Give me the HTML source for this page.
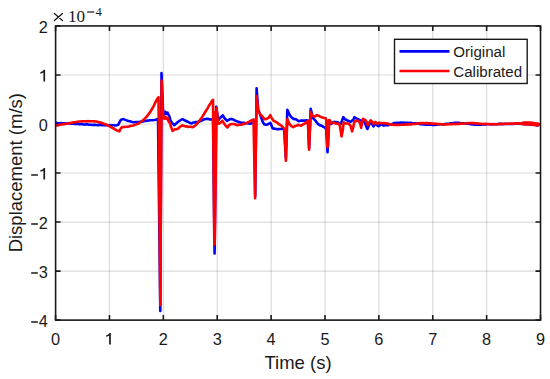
<!DOCTYPE html>
<html><head><meta charset="utf-8"><style>
html,body{margin:0;padding:0;background:#fff;}
body{width:550px;height:379px;overflow:hidden;}
svg{display:block;}
text{font-family:"Liberation Sans",sans-serif;fill:#1a1a1a;}
</style></head><body>
<svg width="550" height="379" viewBox="0 0 550 379">
<rect width="550" height="379" fill="#fff"/>
<g stroke="#262626" stroke-opacity="0.17" stroke-width="1.15" fill="none"><line x1="109.48" y1="25.94" x2="109.48" y2="320.12"/><line x1="163.36" y1="25.94" x2="163.36" y2="320.12"/><line x1="217.24" y1="25.94" x2="217.24" y2="320.12"/><line x1="271.12" y1="25.94" x2="271.12" y2="320.12"/><line x1="325.00" y1="25.94" x2="325.00" y2="320.12"/><line x1="378.88" y1="25.94" x2="378.88" y2="320.12"/><line x1="432.76" y1="25.94" x2="432.76" y2="320.12"/><line x1="486.64" y1="25.94" x2="486.64" y2="320.12"/><line x1="55.60" y1="271.09" x2="540.52" y2="271.09"/><line x1="55.60" y1="222.06" x2="540.52" y2="222.06"/><line x1="55.60" y1="173.03" x2="540.52" y2="173.03"/><line x1="55.60" y1="124.00" x2="540.52" y2="124.00"/><line x1="55.60" y1="74.97" x2="540.52" y2="74.97"/></g>
<path d="M55.60 320.12V315.12M55.60 25.94V30.94M109.48 320.12V315.12M109.48 25.94V30.94M163.36 320.12V315.12M163.36 25.94V30.94M217.24 320.12V315.12M217.24 25.94V30.94M271.12 320.12V315.12M271.12 25.94V30.94M325.00 320.12V315.12M325.00 25.94V30.94M378.88 320.12V315.12M378.88 25.94V30.94M432.76 320.12V315.12M432.76 25.94V30.94M486.64 320.12V315.12M486.64 25.94V30.94M540.52 320.12V315.12M540.52 25.94V30.94M55.60 320.12H60.60M540.52 320.12H535.52M55.60 271.09H60.60M540.52 271.09H535.52M55.60 222.06H60.60M540.52 222.06H535.52M55.60 173.03H60.60M540.52 173.03H535.52M55.60 124.00H60.60M540.52 124.00H535.52M55.60 74.97H60.60M540.52 74.97H535.52M55.60 25.94H60.60M540.52 25.94H535.52" stroke="#1a1a1a" stroke-width="1.6" fill="none"/>
<clipPath id="ax"><rect x="55.60" y="25.94" width="484.92" height="294.18"/></clipPath>
<g fill="none" stroke-linejoin="round" stroke-linecap="round" stroke-width="2.6" clip-path="url(#ax)">
<polyline stroke="#0000ff" points="55.6,123.0 56.9,122.9 58.3,123.3 59.6,123.3 61.0,123.1 62.3,123.3 63.7,123.3 65.0,123.4 66.4,123.6 67.7,123.5 69.1,123.4 70.5,123.4 72.0,123.8 73.4,123.7 74.8,123.9 76.2,123.7 77.7,123.9 79.1,124.1 80.5,124.1 82.0,124.1 83.5,124.5 85.0,124.6 86.4,124.3 87.9,124.4 89.4,124.7 90.9,124.8 92.3,125.0 93.8,124.9 95.2,124.9 96.6,125.0 98.1,125.1 99.5,124.9 101.0,125.0 102.4,125.2 103.9,125.2 105.3,125.1 106.8,125.2 108.2,125.3 109.5,125.2 110.9,125.4 112.2,125.3 113.6,125.3 114.9,125.5 116.6,125.3 118.3,124.8 119.6,122.0 121.0,119.7 123.6,119.1 125.3,119.9 127.1,120.6 128.5,121.0 129.9,121.2 131.4,121.8 132.8,122.1 134.2,122.3 135.7,122.0 137.2,122.0 138.7,122.0 140.2,121.8 141.6,121.6 143.0,121.5 144.5,121.0 145.9,121.0 147.3,120.6 148.7,120.5 150.1,120.2 151.4,120.2 152.8,120.2 154.2,120.0 155.6,119.7 158.0,119.1 160.3,311.0 161.5,73.0 163.1,111.2 164.2,114.3 165.3,111.8 166.4,114.0 167.5,112.6 168.6,114.8 169.5,116.5 170.5,120.5 172.0,123.0 174.3,125.2 176.0,123.6 178.2,121.8 180.0,120.5 182.5,119.0 184.0,120.0 186.1,121.0 187.6,121.7 189.0,122.4 190.3,123.0 191.7,123.4 193.1,122.5 194.5,122.5 195.8,122.0 197.2,122.0 199.0,121.6 200.8,121.0 202.7,119.9 204.5,119.3 206.3,118.9 208.2,118.9 210.0,119.4 211.5,119.5 213.0,119.5 214.6,253.4 216.2,106.7 218.3,120.0 220.4,117.7 222.7,115.3 224.7,118.5 227.1,120.8 229.5,119.3 231.4,118.9 233.4,119.6 235.8,120.8 237.4,121.6 239.0,122.0 240.6,122.6 242.1,122.8 243.7,122.8 245.3,123.1 246.9,123.2 248.5,123.4 250.8,123.6 252.8,122.8 254.5,121.5 255.2,196.0 256.6,88.2 258.2,109.8 259.6,112.9 261.2,117.7 262.8,122.0 264.3,124.4 266.7,124.8 268.3,124.0 270.3,122.8 271.9,126.4 272.6,128.4 274.0,128.6 275.4,128.8 277.0,129.2 278.6,129.1 280.2,129.0 281.8,128.8 284.1,129.1 285.9,158.0 287.3,109.8 289.9,115.2 291.7,117.5 293.5,118.9 294.9,119.1 296.3,119.4 298.6,121.2 301.2,120.6 302.8,120.6 304.3,120.6 306.7,120.3 308.0,120.5 309.1,148.0 310.7,108.9 313.0,118.2 315.4,120.6 317.8,123.8 320.2,125.4 321.8,125.7 323.4,126.9 325.5,127.8 326.3,130.0 327.5,152.3 329.0,120.5 331.2,124.0 332.8,122.5 334.3,121.9 335.9,122.2 337.5,122.1 339.1,123.5 340.7,124.0 342.0,120.6 343.3,117.1 344.9,119.3 346.5,120.0 348.1,120.8 350.7,121.9 352.0,120.6 353.3,119.8 354.4,117.2 356.0,118.3 357.4,118.9 358.7,119.5 360.1,120.4 361.5,120.5 363.1,121.6 364.7,122.3 366.0,125.7 367.4,129.0 369.5,124.0 371.5,122.5 373.4,126.5 375.5,123.5 377.0,125.2 378.5,126.2 381.0,124.5 382.4,124.8 383.7,125.6 385.2,125.3 386.8,125.0 388.5,125.1 390.3,124.5 392.0,124.2 394.0,123.1 395.3,123.0 396.6,122.9 397.9,122.9 399.3,123.0 400.6,122.5 401.9,122.8 403.2,122.6 404.7,122.8 406.1,122.9 407.6,122.9 409.0,123.0 410.5,122.9 412.1,123.1 413.6,123.2 415.2,123.3 416.8,123.5 418.4,123.6 420.0,124.1 421.6,124.3 423.2,124.5 424.5,124.4 425.8,124.6 427.1,124.7 428.4,124.7 429.8,124.7 431.1,124.8 432.4,124.9 433.7,125.0 435.0,125.0 436.4,124.8 437.9,124.5 439.3,124.5 440.7,124.3 442.1,124.3 443.6,124.3 445.0,124.0 446.4,123.9 447.9,123.8 449.3,123.6 450.7,123.2 452.1,123.3 453.6,123.0 455.0,122.8 456.4,122.7 457.9,122.8 459.3,122.9 460.7,123.3 462.1,123.2 463.6,123.2 465.0,123.5 466.4,123.7 467.9,123.8 469.3,123.9 470.7,124.1 472.1,124.4 473.6,124.5 475.0,124.8 476.4,124.7 477.7,124.8 479.1,124.6 480.5,124.5 481.8,124.6 483.2,124.3 484.5,124.4 485.9,124.4 487.3,124.3 488.6,124.2 490.0,124.3 491.4,124.4 492.7,124.2 494.1,124.1 495.4,124.2 496.8,124.3 498.1,123.9 499.4,123.9 500.8,123.9 502.1,124.1 503.5,124.0 504.9,123.8 506.3,124.0 507.7,124.0 509.1,123.9 510.5,123.7 512.0,124.0 513.4,123.9 514.8,123.7 516.2,123.6 517.6,123.7 519.0,123.6 520.4,123.7 521.8,123.9 523.2,123.9 524.6,124.1 526.0,124.0 527.4,124.3 528.8,124.3 530.3,124.7 531.7,124.8 533.2,124.6 534.6,124.8 536.5,125.1 538.4,125.2"/>
<polyline stroke="#ff0000" points="55.6,125.4 57.2,125.4 58.8,125.1 60.4,124.5 62.0,124.5 63.4,124.1 64.8,124.1 66.3,123.8 67.7,123.5 69.3,123.2 70.9,122.8 72.5,122.6 74.1,122.2 75.7,122.1 77.3,121.9 78.9,121.5 80.5,121.5 82.0,121.4 83.5,121.3 85.0,121.3 86.5,121.4 88.0,121.1 89.3,121.3 90.7,121.2 92.0,121.3 93.4,121.2 94.7,121.4 96.1,121.5 97.4,121.8 98.8,122.2 100.1,122.4 101.5,122.8 102.8,123.3 104.2,124.0 105.5,124.3 106.8,124.8 108.4,125.7 110.0,126.5 111.6,127.5 113.2,128.2 114.7,129.2 116.3,130.2 117.8,130.6 119.3,131.3 121.0,128.2 122.3,127.1 124.1,127.0 125.9,126.8 127.4,126.7 128.9,126.4 130.4,125.9 131.9,125.8 133.4,125.5 134.9,124.9 136.3,124.4 137.8,123.8 139.2,123.1 140.5,122.0 142.1,121.0 143.7,119.7 146.0,117.3 148.5,114.3 150.3,111.9 152.0,109.0 153.8,105.8 155.6,101.9 157.0,99.2 158.5,97.2 160.3,305.0 161.6,80.6 163.1,116.3 164.2,118.8 165.3,116.6 166.4,119.0 167.5,117.8 168.6,121.5 170.3,123.6 170.8,126.4 172.5,130.8 174.9,129.3 176.8,129.1 178.2,128.5 179.5,127.3 180.9,126.2 182.3,125.4 184.2,125.9 185.6,126.5 186.9,126.3 188.3,127.0 189.7,126.8 191.1,126.7 192.5,127.3 193.9,126.6 195.3,125.4 196.7,124.2 198.0,122.6 199.4,120.7 200.8,118.9 202.2,116.9 203.6,114.8 204.9,112.5 206.3,110.2 207.7,108.2 209.1,105.5 210.6,103.2 212.0,100.9 213.0,99.8 214.3,244.6 215.2,112.0 214.7,244.0 216.6,108.0 217.9,123.7 220.0,123.2 222.3,120.8 224.7,124.4 226.1,126.2 227.5,127.4 229.5,124.8 231.8,124.0 234.2,124.0 236.6,125.2 238.2,124.9 239.8,124.8 241.4,124.7 242.9,124.0 244.5,124.0 246.1,123.2 247.7,122.4 249.3,121.6 251.6,120.4 253.2,119.6 253.5,119.3 255.1,198.3 256.6,96.1 258.2,111.5 260.4,114.5 262.8,116.9 264.3,119.3 266.7,118.9 268.7,117.7 270.3,115.2 271.9,118.5 273.8,120.8 275.4,121.7 277.0,122.4 278.6,124.0 280.2,124.8 282.5,126.8 284.5,128.8 285.9,160.8 287.3,119.0 289.4,124.0 291.2,125.9 293.1,127.2 295.4,125.9 296.8,125.6 298.2,124.9 299.7,125.3 301.2,125.7 302.8,124.5 304.3,123.8 306.7,122.2 307.8,120.6 309.1,149.8 310.7,112.1 312.3,115.8 314.6,116.6 317.0,115.1 318.6,115.7 320.2,116.6 321.8,117.3 323.4,117.7 325.7,118.2 326.2,120.0 327.4,147.2 327.9,121.0 328.0,146.0 329.3,120.0 329.9,120.3 331.2,123.0 332.8,122.7 334.3,123.0 335.9,123.6 337.5,123.5 339.6,124.5 340.6,130.4 341.5,136.4 342.8,130.4 343.6,122.4 346.0,123.5 347.6,123.5 349.1,124.0 350.7,126.1 352.1,131.5 353.3,127.2 354.4,121.5 356.8,120.7 358.7,120.7 360.3,123.8 361.1,127.8 361.9,123.8 363.1,118.8 365.1,119.9 366.6,121.9 367.8,125.2 369.0,123.0 370.6,120.3 372.2,121.5 373.4,123.8 375.4,121.9 377.3,123.8 379.3,122.6 381.3,123.4 383.7,123.0 386.0,123.4 388.4,123.8 390.2,124.6 392.0,124.6 393.3,124.6 394.6,124.9 396.0,124.9 397.3,124.8 398.6,124.9 400.1,124.8 401.6,124.8 403.1,124.7 404.7,124.6 406.2,124.4 407.7,124.5 409.2,124.4 410.6,124.5 412.1,124.2 413.5,123.9 415.0,124.0 416.5,123.8 418.0,123.5 419.5,123.1 421.1,123.3 422.7,123.0 424.3,123.2 425.9,123.1 427.2,123.0 428.5,123.4 429.8,123.3 431.1,123.4 432.4,123.8 433.7,123.5 435.0,123.8 436.4,123.9 437.9,124.1 439.3,124.0 440.7,124.1 442.1,124.5 443.6,124.4 445.0,124.5 446.4,124.5 447.9,124.2 449.3,124.2 450.7,124.1 452.1,124.2 453.6,123.9 455.0,124.0 456.4,124.1 457.9,123.7 459.3,123.9 460.7,123.5 462.1,123.5 463.6,123.7 465.0,123.5 466.5,123.2 468.0,123.1 469.5,123.2 471.0,123.0 472.5,123.1 474.0,123.1 475.5,123.6 477.0,123.4 478.5,123.5 480.0,123.8 481.4,123.8 482.9,124.0 484.3,124.1 485.7,123.9 487.1,124.0 488.6,124.0 490.0,124.2 491.4,124.1 492.7,124.2 494.1,124.2 495.4,124.2 496.8,124.2 498.1,124.2 499.4,124.1 500.8,123.9 502.1,123.8 503.5,123.9 504.9,123.9 506.3,123.7 507.7,123.6 509.1,123.7 510.5,123.8 512.0,123.5 513.4,123.6 514.8,123.5 516.2,123.5 517.6,123.3 519.0,123.4 520.7,123.6 522.3,123.2 524.0,123.3 525.5,123.4 527.0,123.4 528.5,123.3 530.0,123.6 531.7,123.8 533.3,123.7 535.0,124.0 536.8,124.0 538.6,124.4"/>
<polyline stroke="#ff0000" stroke-width="4.4" points="523.5,123.4 529,123.5 533,123.8 536,124.3 537.6,124.5"/>
</g>
<g stroke="#1a1a1a" stroke-width="1.6" fill="none">
<rect x="55.60" y="25.94" width="484.92" height="294.18"/>
</g>
<g font-size="16.3"><text x="55.60" y="344.6" text-anchor="middle">0</text><text x="163.36" y="344.6" text-anchor="middle">2</text><text x="217.24" y="344.6" text-anchor="middle">3</text><text x="271.12" y="344.6" text-anchor="middle">4</text><text x="325.00" y="344.6" text-anchor="middle">5</text><text x="378.88" y="344.6" text-anchor="middle">6</text><text x="432.76" y="344.6" text-anchor="middle">7</text><text x="486.64" y="344.6" text-anchor="middle">8</text><text x="540.52" y="344.6" text-anchor="middle">9</text><text x="47.9" y="326.72" text-anchor="end">4</text><text x="47.9" y="277.69" text-anchor="end">3</text><text x="47.9" y="228.66" text-anchor="end">2</text><text x="47.9" y="130.60" text-anchor="end">0</text><text x="47.9" y="32.54" text-anchor="end">2</text></g>
<path d="M110.83 333.00L110.83 344.60L109.13 344.60L109.13 335.70Q107.98 336.40 106.08 336.80L106.08 335.40Q108.48 334.60 109.68 333.00ZM45.10 167.93L45.10 179.53L43.40 179.53L43.40 170.63Q42.25 171.33 40.35 171.73L40.35 170.33Q42.75 169.53 43.95 167.93ZM45.10 69.87L45.10 81.47L43.40 81.47L43.40 72.57Q42.25 73.27 40.35 73.67L40.35 72.27Q42.75 71.47 43.95 69.87ZM31.2 321.22h6.7v1.5h-6.7zM31.2 272.19h6.7v1.5h-6.7zM31.2 223.16h6.7v1.5h-6.7zM31.2 174.13h6.7v1.5h-6.7z" fill="#1a1a1a"/>
<text x="298" y="368.8" text-anchor="middle" font-size="18.5">Time (s)</text>
<text transform="translate(21.8,172.7) rotate(-90)" text-anchor="middle" font-size="18.5">Displacement (m/s)</text>
<path d="M54.4 13.4L62.5 20.6M62.5 13.4L54.4 20.6" stroke="#1a1a1a" stroke-width="1.3" fill="none" stroke-linecap="round"/>
<text x="67.9" y="21.7" font-size="17.2" style="font-family:'Liberation Serif',serif">10</text>
<rect x="87.1" y="11.4" width="7.2" height="1.2" fill="#1a1a1a"/>
<text x="95.4" y="15.9" font-size="12.6" style="font-family:'Liberation Serif',serif">4</text>
<g>
<rect x="394.5" y="39.3" width="132.7" height="44.2" fill="#fff" stroke="#1a1a1a" stroke-width="1.4"/>
<line x1="399.5" y1="51.4" x2="449.5" y2="51.4" stroke="#0000ff" stroke-width="2.7"/>
<line x1="399.5" y1="71" x2="449.5" y2="71" stroke="#ff0000" stroke-width="2.7"/>
<text x="453.3" y="57.2" font-size="15.1">Original</text>
<text x="453.3" y="76.9" font-size="15.1">Calibrated</text>
</g>
</svg>
</body></html>
